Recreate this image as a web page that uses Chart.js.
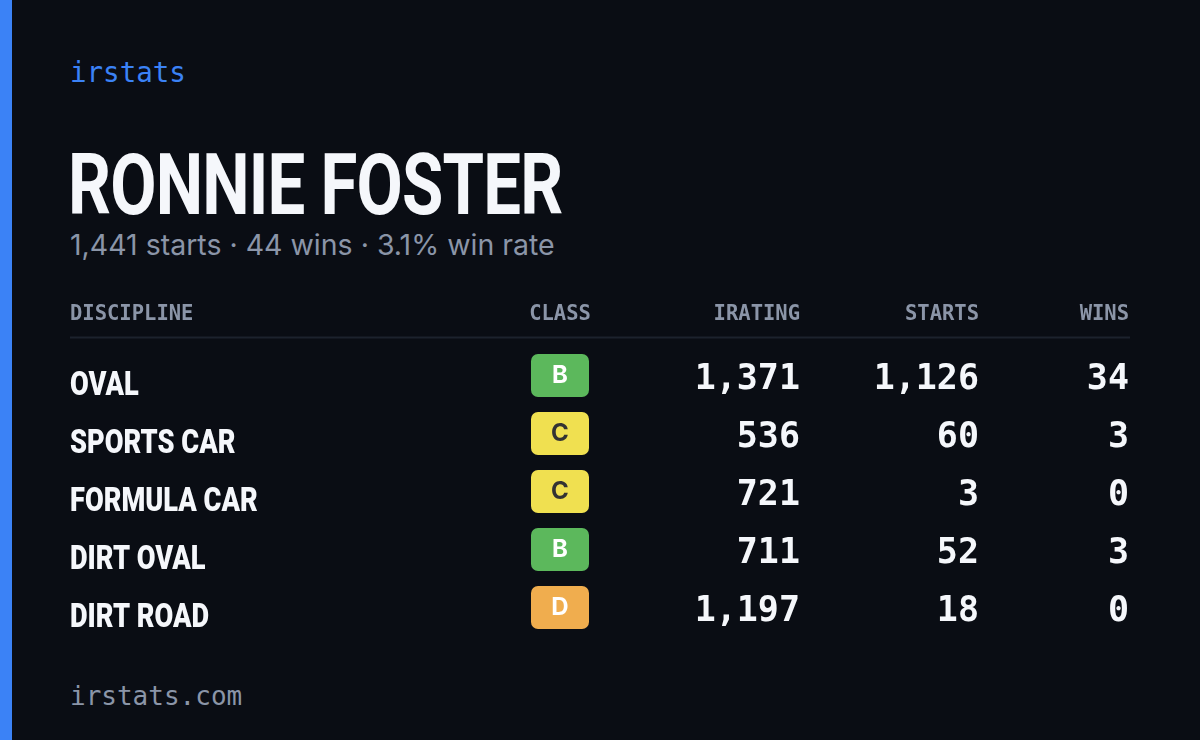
<!DOCTYPE html>
<html>
<head>
<meta charset="utf-8">
<script src="https://cdn.jsdelivr.net/npm/chart.js@4.4.1/dist/chart.umd.min.js"></script>
<style>
  html, body { margin: 0; padding: 0; background: #0a0d14; }
  #wrap { position: relative; width: 1200px; height: 740px; overflow: hidden; background: #0a0d14; }
  #stripe { position: absolute; left: 0; top: 0; width: 12px; height: 740px; background: #3b82f6; }
  #brand { position: absolute; left: 70px; top: 56px; font: 500 27.5px "DejaVu Sans Mono", monospace; color: #3b82f6; }
  #name { position: absolute; left: 68px; top: 134px; font: bold 86px "Roboto", sans-serif; color: #f5f7fb; letter-spacing: -1px; transform: scaleX(0.78); transform-origin: left; white-space: nowrap; }
  #sub { position: absolute; left: 70px; top: 227px; font: 28.5px "Inter", sans-serif; color: #8b95a8; }
  #foot { position: absolute; left: 70px; top: 681px; font: 26px "DejaVu Sans Mono", monospace; color: #8b95a8; }
  canvas { position: absolute; left: 0; top: 0; }
</style>
</head>
<body>
<div id="wrap">
  <div id="stripe"></div>
  <div id="brand">irstats</div>
  <div id="name">RONNIE FOSTER</div>
  <div id="sub">1,441 starts · 44 wins · 3.1% win rate</div>
  <div id="foot">irstats.com</div>
  <canvas id="myChart" width="1200" height="740"></canvas>
</div>
<script>
// datos de la tabla
var disciplines = ['OVAL', 'SPORTS CAR', 'FORMULA CAR', 'DIRT OVAL', 'DIRT ROAD'];
var classes = ['B', 'C', 'C', 'B', 'D'];
var iratings = [1371, 536, 721, 711, 1197];
var starts = [1126, 60, 3, 52, 18];
var wins = [34, 3, 0, 3, 0];
var headers = ['DISCIPLINE', 'CLASS', 'IRATING', 'STARTS', 'WINS'];

// posiciones de columna (eje x en pixeles)
var colX = [70, 560, 800, 979, 1129];
var classColors = { B: '#5cb85c', C: '#f0e050', D: '#f0ad4e' };

function fmt(n) { return n.toLocaleString('en-US'); }

var tablePlugin = {
  id: 'tabla',
  afterDatasetsDraw: function(chart) {
    var ctx = chart.ctx;
    var x = chart.scales.x, y = chart.scales.y;
    ctx.save();
    // cabecera
    var hy = y.getPixelForValue(-1.1);
    ctx.font = 'bold 20.5px "DejaVu Sans Mono", monospace';
    ctx.fillStyle = '#8b95a8';
    ctx.textBaseline = 'middle';
    headers.forEach(function(h, i) {
      ctx.textAlign = i === 0 ? 'left' : (i === 1 ? 'center' : 'right');
      ctx.fillText(h, x.getPixelForValue(colX[i]), hy);
    });
    ctx.strokeStyle = '#1c222d';
    ctx.lineWidth = 2;
    var ly = y.getPixelForValue(-0.7);
    ctx.beginPath();
    ctx.moveTo(x.getPixelForValue(70), ly);
    ctx.lineTo(x.getPixelForValue(1130), ly);
    ctx.stroke();

    chart.getDatasetMeta(0).data.forEach(function(pt, i) {
      var cy = pt.y;
      // disciplina (condensada)
      ctx.save();
      ctx.translate(x.getPixelForValue(colX[0]), cy + 8);
      ctx.scale(0.8, 1);
      ctx.font = '900 34px "Roboto", sans-serif';
      ctx.fillStyle = '#f5f7fb';
      ctx.textAlign = 'left';
      ctx.fillText(disciplines[i], 0, 0);
      ctx.restore();
      // clase
      var bx = x.getPixelForValue(colX[1]);
      ctx.fillStyle = classColors[classes[i]];
      ctx.beginPath();
      ctx.roundRect(bx - 29, cy - 24, 58, 43, 7);
      ctx.fill();
      ctx.fillStyle = classes[i] === 'C' ? '#333333' : '#ffffff';
      ctx.font = 'bold 24px "Inter", sans-serif';
      ctx.textAlign = 'center';
      ctx.fillText(classes[i], bx, cy - 2);
      // numeros
      ctx.font = 'bold 35px "DejaVu Sans Mono", monospace';
      ctx.fillStyle = '#f5f7fb';
      ctx.textAlign = 'right';
      ctx.fillText(fmt(iratings[i]), x.getPixelForValue(colX[2]), cy + 2);
      ctx.fillText(fmt(starts[i]), x.getPixelForValue(colX[3]), cy + 2);
      ctx.fillText(fmt(wins[i]), x.getPixelForValue(colX[4]), cy + 2);
    });
    ctx.restore();
  }
};

var ctx = document.getElementById('myChart').getContext('2d');
var myChart = new Chart(ctx, {
  type: 'scatter',
  data: {
    datasets: [{
      data: disciplines.map(function(d, i) { return { x: colX[0], y: i }; }),
      pointRadius: 0
    }]
  },
  options: {
    responsive: false,
    animation: false,
    layout: { padding: { top: 349, bottom: 101, left: 0, right: 0 } },
    plugins: { legend: { display: false }, tooltip: { enabled: false } },
    scales: {
      x: { type: 'linear', min: 0, max: 1200, display: false },
      y: { type: 'linear', min: -0.5, max: 4.5, reverse: true, display: false }
    }
  },
  plugins: [tablePlugin]
});
</script>
</body>
</html>
